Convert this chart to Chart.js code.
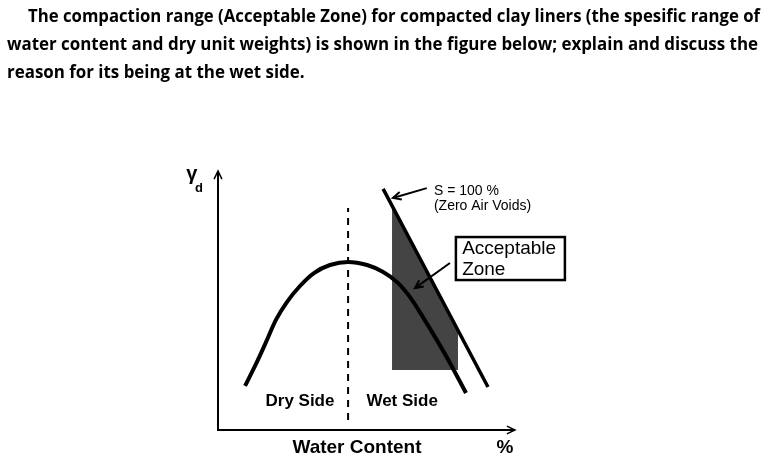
<!DOCTYPE html>
<html>
<head>
<meta charset="utf-8">
<script src="https://cdn.jsdelivr.net/npm/chart.js@4.4.1/dist/chart.umd.min.js"></script>
<style>
  html, body { margin: 0; padding: 0; background: #fff; }
  #wrap { position: relative; width: 765px; height: 468px; }
</style>
</head>
<body>
<div id="wrap"><canvas id="chart" width="765" height="468"></canvas></div>
<script>
// schematic compaction curve, water content (x) vs dry unit weight (y), arbitrary units 0..10
const curveX = [0.91, 1.28, 1.62, 1.95, 2.32, 2.76, 3.23, 3.77, 4.38, 5.02, 5.56, 6.03, 6.46, 6.90, 7.37, 7.81, 8.35];
const curveY = [1.70, 2.55, 3.40, 4.25, 4.94, 5.56, 6.06, 6.37, 6.49, 6.37, 6.10, 5.71, 5.14, 4.36, 3.47, 2.59, 1.43];

// zero air voids line (S = 100 %)
const zavX = [5.56, 9.09];
const zavY = [9.31, 1.66];

// acceptable zone outline
const zoneX = [5.86, 8.08, 8.08, 5.86, 5.86];
const zoneY = [8.66, 3.78, 2.32, 2.32, 8.66];

// optimum water content (dashed divider)
const optX = [4.38, 4.38];
const optY = [0.39, 8.57];

const titleLines = [
  "The compaction range (Acceptable Zone) for compacted clay liners (the spesific range of",
  "water content and dry unit weights) is shown in the figure below; explain and discuss the",
  "reason for its being at the wet side."
];

const toPoints = (xs, ys) => xs.map((x, i) => ({ x: x, y: ys[i] }));

// arrows drawn in data units
const arrows = [
  { from: [7.03, 9.34], to: [5.89, 8.96] },
  { from: [7.81, 6.45], to: [6.63, 5.48] }
];

function arrowHead(ctx, x1, y1, x2, y2, size) {
  const a = Math.atan2(y2 - y1, x2 - x1);
  ctx.beginPath();
  ctx.moveTo(x2 - size * Math.cos(a - 0.45), y2 - size * Math.sin(a - 0.45));
  ctx.lineTo(x2, y2);
  ctx.lineTo(x2 - size * Math.cos(a + 0.45), y2 - size * Math.sin(a + 0.45));
  ctx.stroke();
}

// title paragraph above the figure
const titlePlugin = {
  id: "titleText",
  afterDraw(chart) {
    const ctx = chart.ctx;
    ctx.save();
    ctx.fillStyle = "#000";
    ctx.font = "bold 18px 'Open Sans', sans-serif";
    ctx.textBaseline = "alphabetic";
    const w1 = ctx.measureText(titleLines[0]).width;
    const w2 = ctx.measureText(titleLines[1]).width;
    const s1 = 732 / w1;
    const s2 = 751 / w2;
    ctx.setTransform(s1, 0, 0, 1, 28, 0);
    ctx.fillText(titleLines[0], 0, 22);
    ctx.setTransform(s2, 0, 0, 1, 7, 0);
    ctx.fillText(titleLines[1], 0, 50);
    ctx.fillText(titleLines[2], 0, 78);
    ctx.restore();
  }
};

// axes, arrows and labels
const sketchPlugin = {
  id: "sketch",
  beforeDatasetsDraw(chart) {
    const ctx = chart.ctx;
    const a = chart.chartArea;
    ctx.save();
    ctx.strokeStyle = "#000";
    ctx.lineWidth = 2;
    ctx.beginPath();
    ctx.moveTo(a.left, a.bottom + 1);
    ctx.lineTo(a.left, a.top);
    ctx.moveTo(a.left, a.bottom);
    ctx.lineTo(a.right, a.bottom);
    ctx.stroke();
    ctx.lineWidth = 1.5;
    arrowHead(ctx, a.left, a.bottom, a.left, a.top, 9);
    arrowHead(ctx, a.left, a.bottom, a.right, a.bottom, 9);
    ctx.restore();
  },
  afterDatasetsDraw(chart) {
    const ctx = chart.ctx;
    const xs = chart.scales.x, ys = chart.scales.y;
    const px = (v) => xs.getPixelForValue(v);
    const py = (v) => ys.getPixelForValue(v);
    ctx.save();
    ctx.strokeStyle = "#000";
    ctx.fillStyle = "#000";
    ctx.lineWidth = 2;
    arrows.forEach((ar) => {
      const x1 = px(ar.from[0]), y1 = py(ar.from[1]);
      const x2 = px(ar.to[0]), y2 = py(ar.to[1]);
      ctx.beginPath();
      ctx.moveTo(x1, y1);
      ctx.lineTo(x2, y2);
      ctx.stroke();
      arrowHead(ctx, x1, y1, x2, y2, 9);
    });

    // acceptable zone box
    ctx.fillStyle = "#fff";
    const bx = px(8.01), by = py(7.45), bw = px(11.68) - bx, bh = py(5.79) - by;
    ctx.fillRect(bx, by, bw, bh);
    ctx.lineWidth = 2.5;
    ctx.strokeRect(bx, by, bw, bh);

    ctx.fillStyle = "#000";
    ctx.textBaseline = "alphabetic";
    ctx.textAlign = "left";
    ctx.font = "19px 'Liberation Sans', Arial, sans-serif";
    ctx.fillText("Acceptable", px(8.22), py(6.80));
    ctx.fillText("Zone", px(8.22), py(5.98));

    ctx.font = "14px 'Liberation Sans', Arial, sans-serif";
    ctx.fillText("S = 100 %", px(7.27), py(9.07));
    ctx.fillText("(Zero Air Voids)", px(7.27), py(8.49));

    ctx.textAlign = "center";
    ctx.textBaseline = "middle";
    ctx.font = "bold 17px 'Liberation Sans', Arial, sans-serif";
    ctx.fillText("Dry Side", px(2.76), py(1.12));
    ctx.fillText("Wet Side", px(6.20), py(1.12));
    ctx.font = "bold 19px 'Liberation Sans', Arial, sans-serif";
    ctx.fillText("Water Content", px(4.68), py(-0.69));
    ctx.fillText("%", px(9.66), py(-0.69));

    ctx.font = "bold 20px 'Liberation Sans', Arial, sans-serif";
    ctx.fillText("\u03B3", px(-0.88), py(9.85));
    ctx.font = "bold 13px 'Liberation Sans', Arial, sans-serif";
    ctx.fillText("d", px(-0.64), py(9.34));
    ctx.restore();
  }
};

new Chart(document.getElementById("chart"), {
  type: "scatter",
  data: {
    datasets: [
      {
        label: "Acceptable Zone",
        data: toPoints(zoneX, zoneY),
        showLine: true,
        fill: "shape",
        backgroundColor: "#444444",
        borderColor: "#444444",
        borderWidth: 0,
        pointRadius: 0,
        tension: 0,
        order: 3
      },
      {
        label: "Optimum",
        data: toPoints(optX, optY),
        showLine: true,
        borderColor: "#000",
        borderWidth: 2,
        borderDash: [7, 6],
        pointRadius: 0,
        tension: 0,
        order: 2
      },
      {
        label: "Compaction curve",
        data: toPoints(curveX, curveY),
        showLine: true,
        tension: 0.3,
        borderColor: "#000",
        borderWidth: 4,
        pointRadius: 0,
        order: 1
      },
      {
        label: "S = 100 %",
        data: toPoints(zavX, zavY),
        showLine: true,
        borderColor: "#000",
        borderWidth: 3.5,
        pointRadius: 0,
        tension: 0,
        order: 0
      }
    ]
  },
  options: {
    responsive: false,
    animation: false,
    layout: { padding: { left: 218, top: 171, right: 250, bottom: 38 } },
    scales: {
      x: { type: "linear", min: 0, max: 10, display: false },
      y: { type: "linear", min: 0, max: 10, display: false }
    },
    plugins: {
      legend: { display: false },
      tooltip: { enabled: false }
    }
  },
  plugins: [sketchPlugin, titlePlugin]
});
</script>
</body>
</html>
